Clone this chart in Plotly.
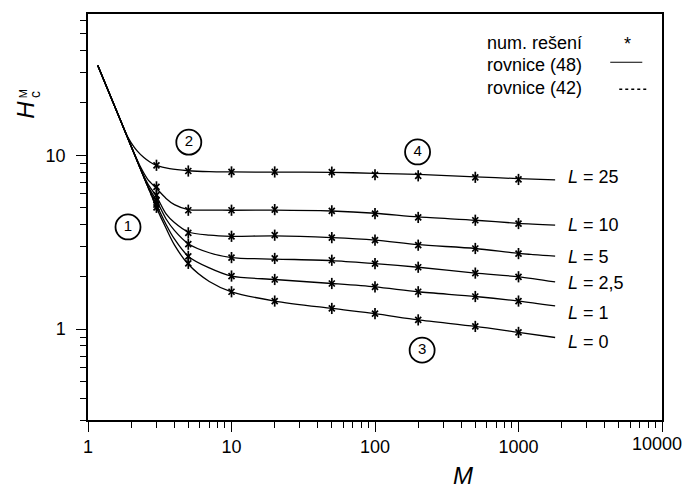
import plotly.graph_objects as go

# Numerical solution points (stars)
M_pts = [3, 5, 10, 20, 50, 100, 200, 500, 1000]
H_pts = {
    "25": [8.76, 8.12, 8.02, 8.02, 8.0, 7.73, 7.62, 7.47, 7.26],
    "10": [6.58, 4.83, 4.83, 4.87, 4.79, 4.62, 4.39, 4.23, 4.05],
    "5": [5.9, 3.58, 3.42, 3.47, 3.36, 3.25, 3.04, 2.91, 2.72],
    "2,5": [5.5, 3.08, 2.58, 2.55, 2.49, 2.38, 2.27, 2.10, 2.00],
    "1": [5.2, 2.62, 2.02, 1.93, 1.83, 1.75, 1.64, 1.54, 1.45],
    "0": [5.02, 2.39, 1.64, 1.45, 1.315, 1.228, 1.13, 1.036, 0.957],
}

# Curves from equation (48); all start on the common steep branch
M_steep = [1.17, 1.4, 1.7]
H_steep = [32.9, 23.0, 15.6]
curves = {
    "25": ([1.85, 2.0, 2.2, 2.45, 2.7, 3, 3.7, 5, 7, 10, 20, 50, 100, 200, 500, 1000, 1800],
           [13.2, 11.8, 10.6, 9.7, 9.15, 8.76, 8.38, 8.15, 8.05, 8.02, 8.0, 7.98, 7.88, 7.76, 7.52, 7.34, 7.22]),
    "10": ([2.0, 2.3, 2.6, 3, 3.5, 4, 5, 7, 10, 20, 50, 100, 200, 500, 1000, 1800],
           [11.25, 8.7, 7.3, 6.45, 5.65, 5.2, 4.87, 4.84, 4.83, 4.84, 4.78, 4.64, 4.42, 4.23, 4.06, 3.96]),
    "5": ([2.0, 2.3, 2.6, 3, 3.5, 4, 5, 7, 10, 20, 50, 100, 200, 500, 1000, 1800],
          [11.25, 8.5, 6.9, 5.8, 4.6, 4.1, 3.62, 3.47, 3.42, 3.44, 3.36, 3.25, 3.06, 2.91, 2.73, 2.63]),
    "2,5": ([2.0, 2.3, 2.6, 3, 3.5, 4, 5, 7, 10, 20, 50, 100, 200, 500, 1000, 1800],
            [11.25, 8.5, 6.7, 5.5, 4.3, 3.7, 3.1, 2.75, 2.58, 2.53, 2.48, 2.38, 2.27, 2.10, 2.0, 1.87]),
    "1": ([2.0, 2.3, 2.6, 3, 3.5, 4, 5, 7, 10, 20, 50, 100, 200, 500, 1000, 1800],
          [11.25, 8.5, 6.66, 5.2, 4.0, 3.3, 2.62, 2.25, 2.02, 1.93, 1.83, 1.75, 1.64, 1.54, 1.45, 1.36]),
    "0": ([2.0, 2.3, 2.6, 3, 3.5, 4, 5, 7, 10, 20, 50, 100, 200, 500, 1000, 1800],
          [11.25, 8.5, 6.66, 5.0, 3.8, 3.05, 2.36, 1.88, 1.64, 1.45, 1.315, 1.228, 1.13, 1.036, 0.957, 0.895]),
}

# Equation (42), valid on the steep branch
M_eq42 = [1.17, 1.4, 1.7, 2.0, 2.5, 3.0]
H_eq42 = [32.9, 23.0, 15.6, 11.25, 7.2, 5.0]

# Region markers
region_M = [1.90, 5.04, 213, 198]
region_H = [3.87, 11.9, 0.757, 10.45]
region_txt = ["1", "2", "3", "4"]

x_major = [1, 10, 100, 1000, 10000]
x_major_text = ["1", "10", "100", "1000", ""]   # last label drawn separately, kept inside the page
x_minor = [k * 10 ** d for d in range(4) for k in range(2, 10)]
y_major = [1, 10]
y_minor = [0.3, 0.4, 0.5, 0.6, 0.7, 0.8, 0.9, 2, 3, 4, 5, 6, 7, 8, 9, 20, 30, 40, 50, 60]

FONT = "Liberation Sans, Arial, sans-serif"
fig = go.Figure()

fig.add_trace(go.Scatter(x=M_eq42, y=H_eq42, mode="lines",
                         line=dict(color="black", width=1.2, dash="dot"),
                         showlegend=False, hoverinfo="skip"))

for key, (mx, hy) in curves.items():
    fig.add_trace(go.Scatter(x=M_steep + mx, y=H_steep + hy, mode="lines",
                             line=dict(color="black", width=1.3, shape="spline", smoothing=0.8),
                             showlegend=False, hoverinfo="skip"))

for key, hv in H_pts.items():
    fig.add_trace(go.Scatter(x=M_pts, y=hv, mode="markers",
                             marker=dict(symbol="x-thin-open", size=6, color="black",
                                         line=dict(color="black", width=1.7)),
                             showlegend=False))
    fig.add_trace(go.Scatter(x=M_pts, y=hv, mode="markers",
                             marker=dict(symbol="line-ns-open", size=8, color="black",
                                         line=dict(color="black", width=1.7)),
                             showlegend=False))

fig.add_trace(go.Scatter(x=region_M, y=region_H, mode="markers+text",
                         text=region_txt, textposition="middle center",
                         textfont=dict(family=FONT, size=15, color="black"),
                         marker=dict(symbol="circle-open", size=25, color="black",
                                     line=dict(color="black", width=1.8)),
                         showlegend=False, hoverinfo="skip"))

# Paper coordinates helpers for the frame (left 88, right 662, top 14, bottom 420 px)
def px(x):
    return (x - 88.3) / 573.4

def py(y):
    return (420 - y) / 406.3

annotations = []
# Curve labels
L_labels = ["25", "10", "5", "2,5", "1", "0"]
L_label_y = [176.7, 225, 256.7, 283.3, 313.3, 341.7]
for lab, yy in zip(L_labels, L_label_y):
    annotations.append(dict(x=px(566), y=py(yy), xref="paper", yref="paper",
                            xanchor="left", yanchor="middle", showarrow=False,
                            text=f"<i>L</i> = {lab}",
                            font=dict(family=FONT, size=18, color="black")))

# Legend block
leg_text = ["num. rešení", "rovnice (48)", "rovnice (42)"]
leg_y = [42.7, 64.5, 87.5]
for t, yy in zip(leg_text, leg_y):
    annotations.append(dict(x=px(485), y=py(yy), xref="paper", yref="paper",
                            xanchor="left", yanchor="middle", showarrow=False,
                            text=t, font=dict(family=FONT, size=18, color="black")))
annotations.append(dict(x=px(627), y=py(44), xref="paper", yref="paper",
                        xanchor="center", yanchor="middle", showarrow=False,
                        text="*", font=dict(family=FONT, size=18, color="black")))

# Last x tick label, right-aligned to the page edge
annotations.append(dict(x=px(684), y=py(444), xref="paper", yref="paper",
                        xanchor="right", yanchor="middle", showarrow=False,
                        text="10000", font=dict(family=FONT, size=18, color="black")))

# Axis titles
annotations.append(dict(x=px(463), y=py(476), xref="paper", yref="paper",
                        xanchor="center", yanchor="middle", showarrow=False,
                        text="<i>M</i>", font=dict(family=FONT, size=24, color="black")))
annotations.append(dict(x=px(26), y=py(110), xref="paper", yref="paper",
                        xanchor="center", yanchor="middle", showarrow=False, textangle=-90,
                        text="<i>H</i>", font=dict(family=FONT, size=24, color="black")))
annotations.append(dict(x=px(36), y=py(94), xref="paper", yref="paper",
                        xanchor="center", yanchor="middle", showarrow=False, textangle=-90,
                        text="c", font=dict(family=FONT, size=14, color="black")))
annotations.append(dict(x=px(23.5), y=py(94), xref="paper", yref="paper",
                        xanchor="center", yanchor="middle", showarrow=False, textangle=-90,
                        text="M", font=dict(family=FONT, size=11, color="black")))

shapes = [
    dict(type="line", xref="paper", yref="paper", x0=px(610), x1=px(642),
         y0=py(62), y1=py(62), line=dict(color="black", width=1.2)),
    dict(type="line", xref="paper", yref="paper", x0=px(619), x1=px(646),
         y0=py(89), y1=py(89), line=dict(color="black", width=1.6, dash="dot")),
]

axis_common = dict(showline=True, linecolor="black", linewidth=1.5, mirror=True,
                   ticks="outside", tickcolor="black", tickwidth=1.2, ticklen=10,
                   showgrid=False, zeroline=False, automargin=False,
                   tickfont=dict(family=FONT, size=18, color="black"))

fig.update_layout(
    width=685, height=490,
    margin=dict(l=88, r=23, t=14, b=70),
    paper_bgcolor="white", plot_bgcolor="white",
    xaxis=dict(type="log", range=[0, 4], tickvals=x_major,
               ticktext=x_major_text, ticklabelstandoff=0,
               minor=dict(tickvals=x_minor, ticks="outside", ticklen=6,
                          tickcolor="black", tickwidth=1, showgrid=False),
               **axis_common),
    yaxis=dict(type="log", range=[-0.5229, 1.8129], tickvals=y_major,
               ticktext=[str(v) for v in y_major], ticklabelstandoff=7,
               minor=dict(tickvals=y_minor, ticks="outside", ticklen=6,
                          tickcolor="black", tickwidth=1, showgrid=False),
               **axis_common),
    annotations=annotations,
    shapes=shapes,
    showlegend=False,
)

fig.write_html("out.html")
